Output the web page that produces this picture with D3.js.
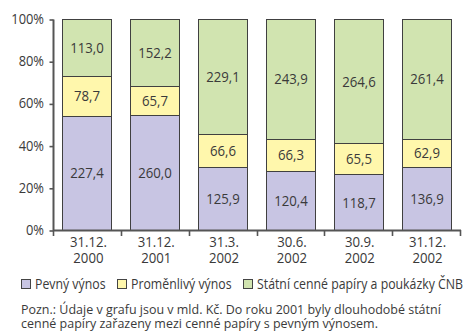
<!DOCTYPE html>
<html>
<head>
<meta charset="utf-8">
<script src="https://cdn.jsdelivr.net/npm/d3@7"></script>
<style>
  html, body { margin: 0; padding: 0; background: #fff; }
  svg { display: block; font-family: "Open Sans", "Noto Sans", sans-serif; }
</style>
</head>
<body>
<svg id="chart" width="470" height="335"></svg>
<script>
// Portfolio structure (bn CZK), stacked to 100 %
const dateDays = ["31.12.", "31.12.", "31.3.", "30.6.", "30.9.", "31.12."];
const dateYears = ["2000", "2001", "2002", "2002", "2002", "2002"];
const fixedYield = [227.4, 260.0, 125.9, 120.4, 118.7, 136.9];
const variableYield = [78.7, 65.7, 66.6, 66.3, 65.5, 62.9];
const govSecurities = [113.0, 152.2, 229.1, 243.9, 264.6, 261.4];
const seriesNames = ["Pevný výnos", "Proměnlivý výnos", "Státní cenné papíry a poukázky ČNB"];
const yTicks = [0, 0.2, 0.4, 0.6, 0.8, 1.0];
const noteLines = [
  "Pozn.: Údaje v grafu jsou v mld. Kč. Do roku 2001 byly dlouhodobé státní",
  "cenné papíry zařazeny mezi cenné papíry s pevným výnosem."
];

const colors = ["#c8c5e3", "#fff7ac", "#d1e4b0"];
const textColor = "#3a3a3a";
const axisColor = "#555";

const svg = d3.select("#chart");
const x0 = 53, x1 = 460, y0 = 230, yTop = 19;

// Narrow-set text: glyphs squeezed horizontally around the anchor point
function label(parent, px, py, str, size, anchor, k) {
  return parent.append("text")
    .attr("transform", `translate(${px},${py}) scale(${k},1)`)
    .attr("text-anchor", anchor)
    .attr("font-size", size)
    .attr("fill", textColor)
    .text(str);
}

const keys = ["fixed", "variable", "gov"];
const rows = dateDays.map((d, i) => ({
  idx: i,
  fixed: fixedYield[i],
  variable: variableYield[i],
  gov: govSecurities[i]
}));

const layers = d3.stack().keys(keys).offset(d3.stackOffsetExpand)(rows);

const xb = d3.scaleBand().domain(d3.range(rows.length)).range([x0, x1]);
const x = d3.scaleBand().domain(d3.range(rows.length)).range([x0, x1]).paddingInner(0.28).paddingOuter(0.14);
const y = d3.scaleLinear().domain([0, 1]).range([y0, yTop]);

// stacked bars
const g = svg.append("g");
layers.forEach((layer, li) => {
  g.selectAll(null).data(layer).enter().append("rect")
    .attr("x", d => Math.round(x(d.data.idx)) + 0.5)
    .attr("y", d => Math.round(y(d[1])) + 0.5)
    .attr("width", Math.round(x.bandwidth()))
    .attr("height", d => Math.round(y(d[0])) - Math.round(y(d[1])))
    .attr("fill", colors[li])
    .attr("stroke", "#404040")
    .attr("stroke-width", 1);
});
layers.forEach((layer, li) => {
  layer.forEach(d => {
    const cx = Math.round(x(d.data.idx)) + Math.round(x.bandwidth()) / 2 + 0.5;
    const cy = (y(d[0]) + y(d[1])) / 2 + 5.5;
    label(g, cx, cy, d.data[keys[li]].toFixed(1).replace(".", ","), 15, "middle", 0.88);
  });
});

// y axis
const yAxis = d3.axisLeft(y).tickValues(yTicks).tickSize(4).tickFormat(() => "");
const ya = svg.append("g").attr("transform", `translate(${x0 + 0.5},0.5)`).call(yAxis);
ya.select(".domain").attr("stroke", axisColor).attr("stroke-width", 2).attr("d", `M0,${y0}V${yTop}`);
ya.selectAll(".tick line").attr("stroke", axisColor).attr("stroke-width", 1.6);
yTicks.forEach(t => {
  label(svg, 44, y(t) + 5, Math.round(t * 100) + "%", 14, "end", 0.92);
});

// x axis with ticks at category boundaries
const xa = svg.append("g");
xa.append("line").attr("x1", x0).attr("x2", x1 + 1).attr("y1", y0 + 0.5).attr("y2", y0 + 0.5)
  .attr("stroke", axisColor).attr("stroke-width", 2);
const bounds = d3.range(rows.length + 1).map(i => i < rows.length ? xb(i) : xb(i - 1) + xb.bandwidth());
xa.selectAll(".bt").data(bounds).enter().append("line")
  .attr("x1", d => Math.round(d) + 0.5).attr("x2", d => Math.round(d) + 0.5)
  .attr("y1", y0).attr("y2", y0 + 6)
  .attr("stroke", axisColor).attr("stroke-width", 1.6);
rows.forEach((r, i) => {
  const cx = xb(i) + xb.bandwidth() / 2 + 1.5;
  label(xa, cx, 246.5, dateDays[i], 15, "middle", 0.88);
  label(xa, cx, 262.5, dateYears[i], 15, "middle", 0.88);
});

// legend
const legendX = [21, 117, 243];
const lg = svg.append("g");
seriesNames.forEach((name, i) => {
  lg.append("rect").attr("x", legendX[i] + 0.5).attr("y", 279.5).attr("width", 9).attr("height", 9)
    .attr("fill", colors[i]).attr("stroke", "#444").attr("stroke-width", 1);
  label(lg, legendX[i] + 14, 289, name, 14, "start", 0.88);
});

// note
const ng = svg.append("g");
noteLines.forEach((line, i) => {
  label(ng, 21, 314 + i * 14, line, 13.5, "start", 0.925);
});
</script>
</body>
</html>
